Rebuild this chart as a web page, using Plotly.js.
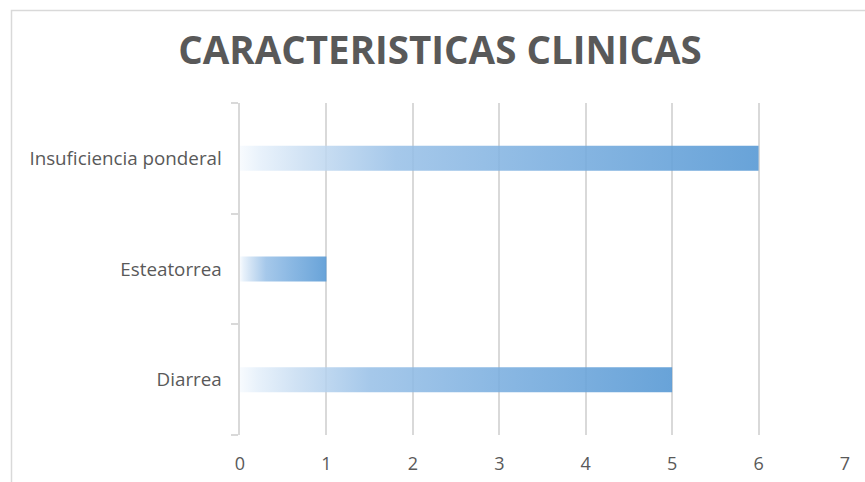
<!DOCTYPE html>
<html>
<head>
<meta charset="utf-8">
<script src="https://cdn.plot.ly/plotly-3.0.1.min.js"></script>
<style>html,body{margin:0;padding:0;background:#fff;}#chart{width:865px;height:482px;}</style>
</head>
<body>
<div id="chart"></div>
<script>
// Data
const categories = ["Diarrea", "Esteatorrea", "Insuficiencia ponderal"];
const values = [5, 1, 6];
const xTicks = [0, 1, 2, 3, 4, 5, 6, 7];
const titleText = "CARACTERISTICAS CLINICAS";

const barHalf = 0.113; // half bar thickness in category units
const gradientScale = [
  [0, "rgba(246,250,254,0.85)"],
  [0.04, "rgba(228,239,250,0.85)"],
  [0.13, "rgba(200,221,242,0.86)"],
  [0.3, "rgba(152,192,231,0.87)"],
  [0.6, "rgba(122,174,223,0.88)"],
  [1, "rgba(91,155,213,0.92)"]
];

const traces = categories.map((c, i) => {
  const v = values[i];
  return {
    type: "scatter",
    mode: "lines",
    x: [0, v, v, 0, 0],
    y: [i - barHalf, i - barHalf, i + barHalf, i + barHalf, i - barHalf],
    fill: "toself",
    line: {width: 0, color: "rgba(0,0,0,0)"},
    fillgradient: {type: "horizontal", colorscale: gradientScale, start: 0, stop: v},
    hoverinfo: "skip",
    showlegend: false,
    name: c
  };
});

const L = 240, R = 845, T = 103, B = 435;
const pw = R - L, ph = B - T;
const px = x => (x - L) / pw;
const py = y => 1 - (y - T) / ph;

const layout = {
  width: 865, height: 482,
  margin: {l: L, r: 865 - R, t: T, b: 482 - B, pad: 0},
  paper_bgcolor: "#ffffff",
  plot_bgcolor: "#ffffff",
  font: {family: "Open Sans, sans-serif", color: "#595959", size: 18},
  title: {
    text: "<b>" + titleText + "</b>",
    font: {family: "Open Sans, sans-serif", size: 38.5, color: "#595959"},
    xref: "paper", x: px(440), xanchor: "center",
    yref: "container", y: 1 - 51 / 482, yanchor: "middle"
  },
  xaxis: {
    range: [0, 7],
    tickvals: xTicks,
    ticktext: xTicks.map(String),
    showgrid: true,
    gridcolor: "#d9d9d9",
    gridwidth: 2,
    zeroline: false,
    showline: false,
    ticks: "",
    ticklabelstandoff: 16,
    tickfont: {size: 18, color: "#595959"},
    fixedrange: true
  },
  yaxis: {
    range: [-0.5, 2.5],
    tickvals: [0, 1, 2],
    ticktext: categories,
    showgrid: false,
    zeroline: false,
    showline: true,
    linecolor: "#d9d9d9",
    linewidth: 2.5,
    ticks: "",
    minor: {tickvals: [-0.5, 0.5, 1.5, 2.5], ticks: "outside", ticklen: 7, tickwidth: 2, tickcolor: "#d9d9d9", showgrid: false},
    ticklabelstandoff: 12,
    tickfont: {size: 18.8, color: "#595959"},
    fixedrange: true
  },
  shapes: [
    {type: "path", xref: "paper", yref: "paper",
     path: `M ${px(11.5)} ${py(490)} L ${px(11.5)} ${py(10.5)} L ${px(870)} ${py(10.5)}`,
     line: {color: "#d9d9d9", width: 1.5}, layer: "below"}
  ]
};

Plotly.newPlot("chart", traces, layout, {displayModeBar: false, staticPlot: true});
</script>
</body>
</html>
